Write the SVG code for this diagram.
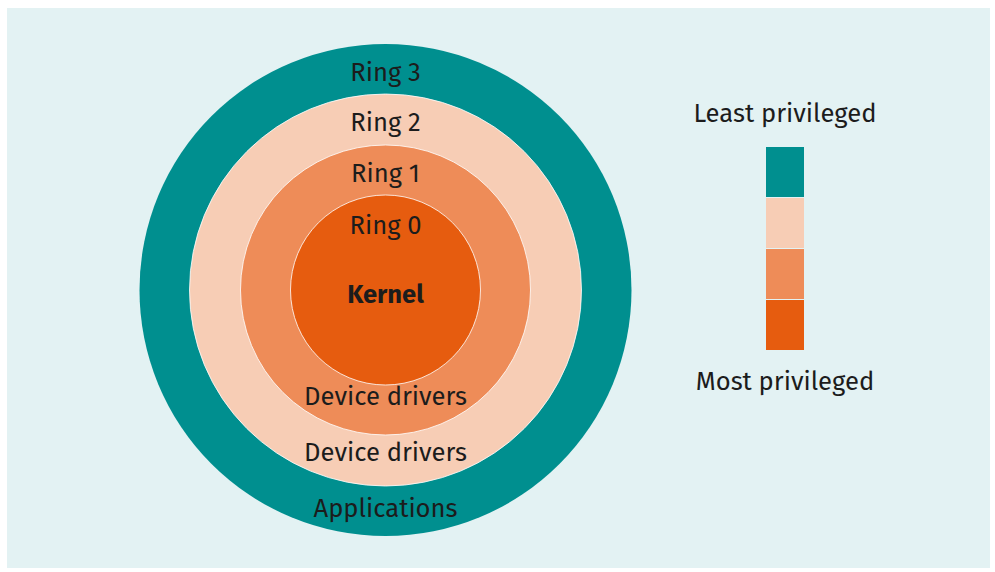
<svg xmlns="http://www.w3.org/2000/svg" width="995" height="572" viewBox="0 0 995 572">
<style>
.t{font-family:"Fira Sans","Open Sans","Noto Sans",sans-serif;font-size:25.6px;fill:#1c1c1c;text-anchor:middle}
.b{font-weight:bold}
.ring{stroke:#ffffff;stroke-width:1;stroke-opacity:0.8}
</style>
<rect x="0" y="0" width="995" height="572" fill="#ffffff"/>
<rect x="7" y="8" width="983" height="560" fill="#e3f2f3"/>
<g id="ring3">
<circle cx="385.5" cy="290" r="246" fill="#008f8f"/>
<text class="t" x="385.5" y="81">Ring 3</text>
<text class="t" x="385.5" y="517">Applications</text>
</g>
<g id="ring2">
<circle class="ring" cx="385.5" cy="290" r="196" fill="#f7cdb5"/>
<text class="t" x="385.5" y="131">Ring 2</text>
<text class="t" x="385.5" y="461">Device drivers</text>
</g>
<g id="ring1">
<circle class="ring" cx="385.5" cy="290" r="145" fill="#ee8c58"/>
<text class="t" x="385.5" y="182">Ring 1</text>
<text class="t" x="385.5" y="405">Device drivers</text>
</g>
<g id="ring0">
<circle class="ring" cx="385.5" cy="290" r="95" fill="#e65c0f"/>
<text class="t" x="385.5" y="234">Ring 0</text>
<text class="t b" x="385.5" y="303">Kernel</text>
</g>
<g id="legend">
<text class="t" x="785" y="122">Least privileged</text>
<rect x="766" y="147" width="38" height="50" fill="#008f8f"/>
<rect x="766" y="198" width="38" height="50" fill="#f7cdb5"/>
<rect x="766" y="249" width="38" height="50" fill="#ee8c58"/>
<rect x="766" y="300" width="38" height="50" fill="#e65c0f"/>
<text class="t" x="785" y="390">Most privileged</text>
</g>
<g id="connectors"/>
</svg>
